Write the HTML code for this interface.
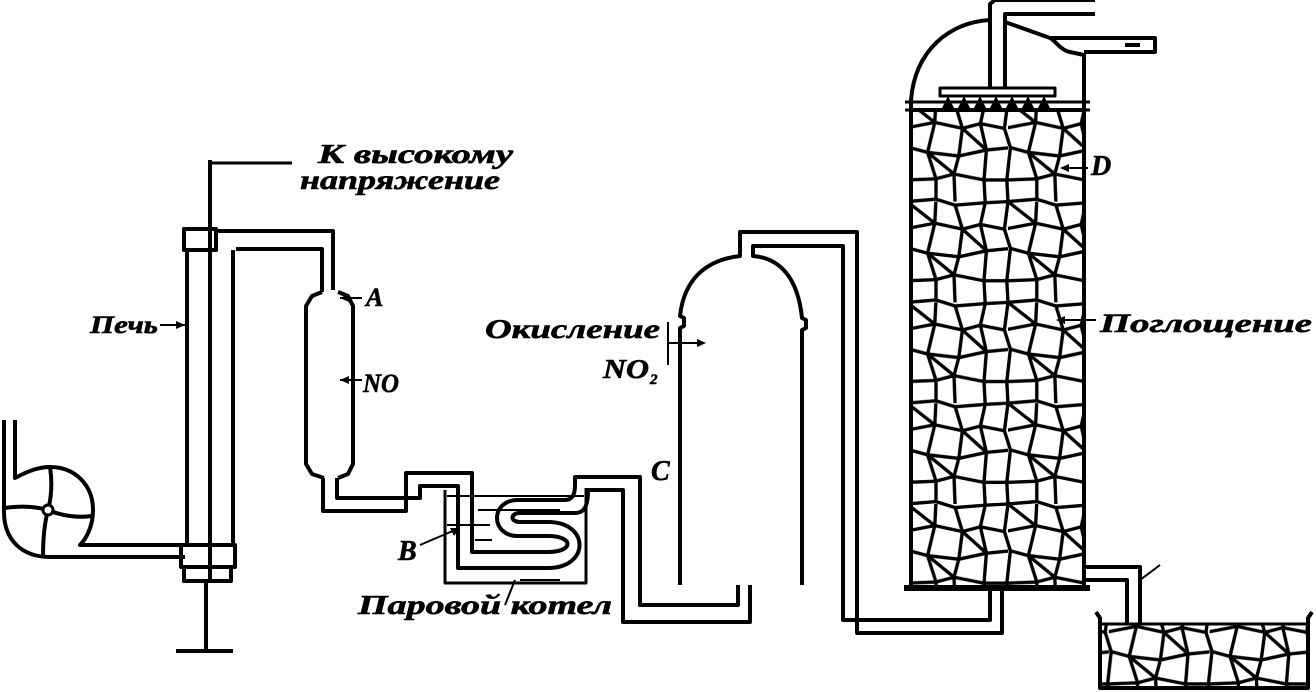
<!DOCTYPE html>
<html><head><meta charset="utf-8"><style>
html,body{margin:0;padding:0;background:#fff;width:1316px;height:692px;overflow:hidden}
svg{display:block}
text{font-family:"Liberation Serif",serif;font-style:italic;font-weight:bold;fill:#000;stroke:#000;stroke-width:0.6}
</style></head><body>
<svg width="1316" height="692" viewBox="0 0 1316 692" xmlns="http://www.w3.org/2000/svg">
<defs>
<pattern id="rock" width="84" height="84" patternUnits="userSpaceOnUse" patternTransform="scale(1.2)">
<rect width="84" height="84" fill="#fff"/>
<g fill="none" stroke="#000" stroke-width="2.8" stroke-linejoin="round" stroke-linecap="round">
<polyline points="0,0 24,-2 40,3 65,1 84,0"/>
<polyline points="-3,23 23,18 46,23 61,19 81,23"/>
<polyline points="2,39 17,43 43,46 66,41 86,39"/>
<polyline points="-1,66 24,65 39,61 64,66 83,66"/>
<polyline points="0,84 24,82 40,87 65,85 84,84"/>
<polyline points="0,0 -3,23 2,39 -1,66 0,84"/>
<polyline points="84,0 81,23 86,39 83,66 84,84"/>
<polyline points="24,-2 23,18 17,43 24,65 24,82"/>
<polyline points="40,3 46,23 43,46 39,61 40,87"/>
<polyline points="65,1 61,19 66,41 64,66 65,85"/>
<path d="M0,0 L23,18 M46,23 L66,41 M17,43 L39,61"/>
</g>
</pattern>
</defs>
<g fill="none" stroke="#000" stroke-width="4" stroke-linejoin="round">
<path d="M4,420 L4,512 C4,540 22,557 50,557 L185,557"/>
<path d="M15,420 L15,478 C30,470 40,467 50,467 C75,467 93,485 93,510 C93,528 85,540 80,545 L185,545"/>
<path d="M48,510 C52,495 52,480 50,467 M48,510 C62,516 78,518 92,516 M48,510 C44,525 43,540 43,557 M48,510 C34,506 18,506 4,508"/>
<circle cx="48" cy="510" r="5" fill="#fff" stroke-width="3"/>
<rect x="184" y="229" width="32" height="21"/>
<path d="M187,250 L187,545 M233,250 L233,545 M210,160 L210,580" />
<path d="M216,231 L333,231 L333,290 M236,249 L322,249 L322,292"/>
<rect x="181" y="545" width="54" height="22"/>
<rect x="184" y="567" width="47" height="14"/>
<path d="M206,581 L206,650 M176,651 L233,651"/>
<path d="M210,163 L292,163" stroke-width="3"/>
<path d="M322,292 L312,296 L306,306 L306,464 L312,474 L324,478 M338,292 L348,296 L353,306 L353,464 L348,474 L338,478"/>
<path d="M323,478 L323,511 L406,511 L406,473 L472,473 L472,552 L548,552 C574,552 574,536 548,536 L518,536 C490,536 490,500 518,500 L565,500 C572,500 575,495 575,485 L575,477 L640,477 L640,605 L738,605 L738,585"/>
<path d="M337,478 L337,498 L420,498 L420,486 L458,486 L458,568 L548,568 C590,568 590,522 548,522 L520,522 C510,522 510,513 520,513 L575,513 C585,513 588,505 588,490 L623,490 L623,622 L750,622 L750,585"/>
<path d="M445,490 L445,583 L586,583 L586,488" stroke-width="3"/>
<path d="M447,496 L584,496 M478,510 L560,510 M447,525 L490,525 M475,540 L492,540 M520,580 L560,580" stroke-width="2"/>
<path d="M680,585 L680,328 L684,326 L684,318 L680,316 C684,280 705,260 740,256 L740,232 L857,232 L857,633 L1002,633 L1002,555"/>
<path d="M802,585 L802,330 L806,328 L806,320 L802,318 C798,278 780,258 753,256 L753,246 L843,246 L843,620 L990,620 L990,555"/>
<rect x="911" y="110" width="173" height="478" fill="url(#rock)"/>
<path d="M904,588 L1090,588" stroke-width="6"/>
<path d="M911,110 L911,100 C915,50 950,22 990,20 M1084,110 L1084,55 L1070,52 C1060,50 1055,40 1050,38 L1005,22"/>
<path d="M905,102 L1090,102" stroke-width="3"/>
<path d="M905,110 L1090,110" stroke-width="3"/>
<path d="M990,88 L990,4 L995,0 L1095,0 M1005,88 L1005,14 L1095,14 M1050,38 L1155,38 L1155,52 L1084,52 M1125,45 L1140,45"/>
<path d="M940,88 L1055,88 L1055,96 L940,96 Z" stroke-width="3"/>
<g fill="#000" stroke="none">
<polygon points="942,108 948,96 954,108"/><polygon points="958,108 964,96 970,108"/><polygon points="974,108 980,96 986,108"/><polygon points="990,108 996,96 1002,108"/><polygon points="1006,108 1012,96 1018,108"/><polygon points="1022,108 1028,96 1034,108"/><polygon points="1038,108 1044,96 1050,108"/>
</g>
<path d="M1084,567 L1140,567 L1140,632 M1084,580 L1127,580 L1127,632"/>
<path d="M1096,612 L1100,618 L1100,688 L1308,688 L1308,618 L1312,612"/>
<rect x="1102" y="624" width="204" height="62" fill="url(#rock)" stroke="none"/>
<path d="M1100,624 L1308,624" stroke-width="3"/>
<g stroke-width="2">
<path d="M160,325 L185,325 M340,298 L362,298 M340,380 L362,380 M668,322 L668,365 M668,343 L700,343 M420,545 L455,530 M515,580 L505,605 M1062,168 L1088,168 M1058,320 L1096,320 M1140,580 L1160,565"/>
</g>
<g fill="#000" stroke="none">
<polygon points="185,325 176,321 176,329"/>
<polygon points="340,298 349,294 349,302"/>
<polygon points="340,380 349,376 349,384"/>
<polygon points="706,343 697,339 697,347"/>
<polygon points="460,528 450,528 454,536"/>
<polygon points="1060,168 1069,164 1069,172"/>
<polygon points="1056,320 1065,316 1065,324"/>
</g>
</g>
<text x="318" y="163" font-size="27" textLength="195" lengthAdjust="spacingAndGlyphs">К высокому</text>
<text x="300" y="189" font-size="27" textLength="200" lengthAdjust="spacingAndGlyphs">напряжение</text>
<text x="90" y="333" font-size="25" textLength="68" lengthAdjust="spacingAndGlyphs">Печь</text>
<text x="366" y="306" font-size="26">A</text>
<text x="363" y="392" font-size="26" textLength="36" lengthAdjust="spacingAndGlyphs">NO</text>
<text x="485" y="338" font-size="27" textLength="175" lengthAdjust="spacingAndGlyphs">Окисление</text>
<text x="603" y="378" font-size="27" textLength="46" lengthAdjust="spacingAndGlyphs">NO</text>
<text x="650" y="384" font-size="15">2</text>
<text x="651" y="480" font-size="28">C</text>
<text x="398" y="560" font-size="28">B</text>
<text x="358" y="614" font-size="27" textLength="254" lengthAdjust="spacingAndGlyphs">Паровой котел</text>
<text x="1091" y="175" font-size="28">D</text>
<text x="1100" y="332" font-size="26" textLength="212" lengthAdjust="spacingAndGlyphs">Поглощение</text>
</svg>
</body></html>
